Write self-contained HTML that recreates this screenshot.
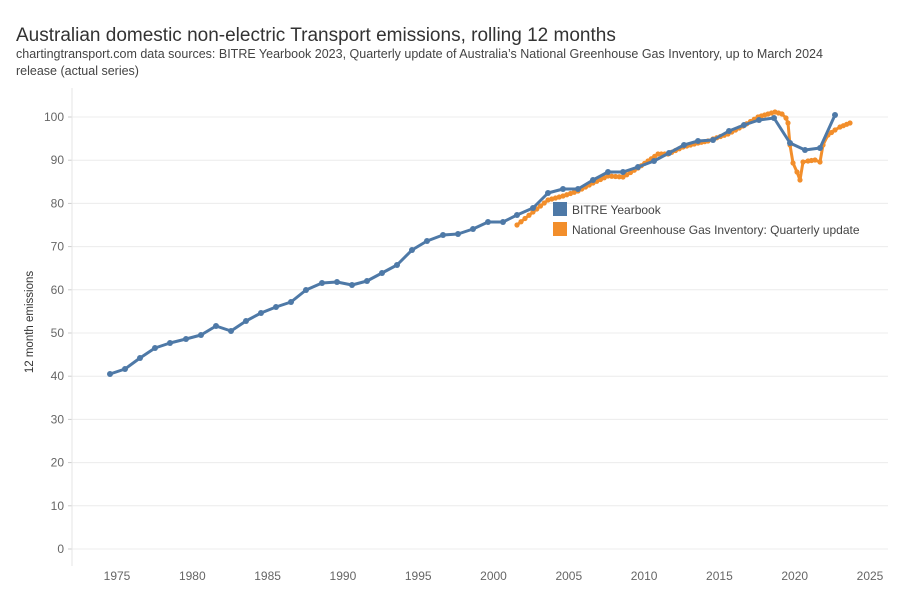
<!DOCTYPE html>
<html><head><meta charset="utf-8"><style>
body{margin:0;background:#fff;width:900px;height:600px;overflow:hidden;font-family:"Liberation Sans",sans-serif}
</style></head><body>
<svg width="900" height="600" xmlns="http://www.w3.org/2000/svg" font-family="Liberation Sans, sans-serif">
<text x="16" y="41" font-size="19" fill="#333">Australian domestic non-electric Transport emissions, rolling 12 months</text>
<text x="16" y="58" font-size="12.5" fill="#444">chartingtransport.com  data sources: BITRE Yearbook 2023, Quarterly update of Australia’s National Greenhouse Gas Inventory, up to March 2024</text>
<text x="16" y="75" font-size="12.5" fill="#444">release (actual series)</text>
<g id="grid" stroke="#ececec" stroke-width="1"></g>
<line x1="72" y1="88" x2="72" y2="566" stroke="#e6e6e6"/>
<g id="ylab" font-size="12" fill="#666" text-anchor="end"></g>
<g id="xlab" font-size="12" fill="#666" text-anchor="middle"></g>
<text transform="translate(33,322) rotate(-90)" font-size="11.5" fill="#333" text-anchor="middle">12 month emissions</text>
<g id="series"></g>
<rect x="553" y="202" width="14" height="14" fill="#4e79a7"/>
<text x="572" y="214" font-size="12" fill="#444">BITRE Yearbook</text>
<rect x="553" y="222" width="14" height="14" fill="#f28e2b"/>
<text x="572" y="234" font-size="12" fill="#444">National Greenhouse Gas Inventory: Quarterly update</text>
</svg>
<script>
var NS="http://www.w3.org/2000/svg";
function el(t,a,p){var e=document.createElementNS(NS,t);for(var k in a)e.setAttribute(k,a[k]);document.getElementById(p).appendChild(e);return e;}
for(var v=0;v<=100;v+=10){var y=549-v*4.32;el("line",{x1:72,x2:888,y1:y,y2:y},"grid");el("line",{x1:68,x2:72,y1:y,y2:y,stroke:"#ccc"},"grid");var t=el("text",{x:64,y:y+4},"ylab");t.textContent=v;}
for(var yr=1975;yr<=2025;yr+=5){var x=117+(yr-1975)*15.06;var t=el("text",{x:x,y:580},"xlab");t.textContent=yr;}
var orangeKey=[[517,225],[533,212],[548,200],[563,196],[578,191],[593,183],[608,176],[623,177],[638,168],[648,161],[658,154],[668,154],[683,147],[698,143],[708,141],[713,139],[728,134],[743,126],[758,117],[768,114],[775,112],[782,114],[786,118],[788,123],[790,145],[793,163],[797,172],[800,180],[803,162],[808,161],[815,160],[820,162],[823,145],[828,135],[835,130],[840,127],[850,123]];
var op=[];for(var i=0;i<orangeKey.length-1;i++){var a=orangeKey[i],b=orangeKey[i+1];var n=Math.max(1,Math.round((b[0]-a[0])/3.76));for(var j=0;j<n;j++)op.push([a[0]+(b[0]-a[0])*j/n,a[1]+(b[1]-a[1])*j/n]);}op.push(orangeKey[orangeKey.length-1]);
var blue=[[110,374],[125,369],[140,358],[155,348],[170,343],[186,339],[201,335],[216,326],[231,331],[246,321],[261,313],[276,307],[291,302],[306,290],[322,283],[337,282],[352,285],[367,281],[382,273],[397,265],[412,250],[427,241],[443,235],[458,234],[473,229],[488,222],[503,222],[517,215],[533,208],[548,193],[563,189],[578,189],[593,180],[608,172],[623,172],[638,167],[654,161],[669,153],[684,145],[698,141],[713,140],[729,131],[744,125],[759,120],[774,118],[775,119],[790,143],[805,150],[820,148],[835,115]];
blue.splice(45,1);
function draw(pts,c,r){el("polyline",{points:pts.map(p=>p.join(",")).join(" "),fill:"none",stroke:c,"stroke-width":3,"stroke-linejoin":"round"},"series");pts.forEach(p=>el("circle",{cx:p[0],cy:p[1],r:r,fill:c},"series"));}
draw(op,"#f28e2b",2.6);draw(blue,"#4e79a7",3);
</script>
</body></html>
